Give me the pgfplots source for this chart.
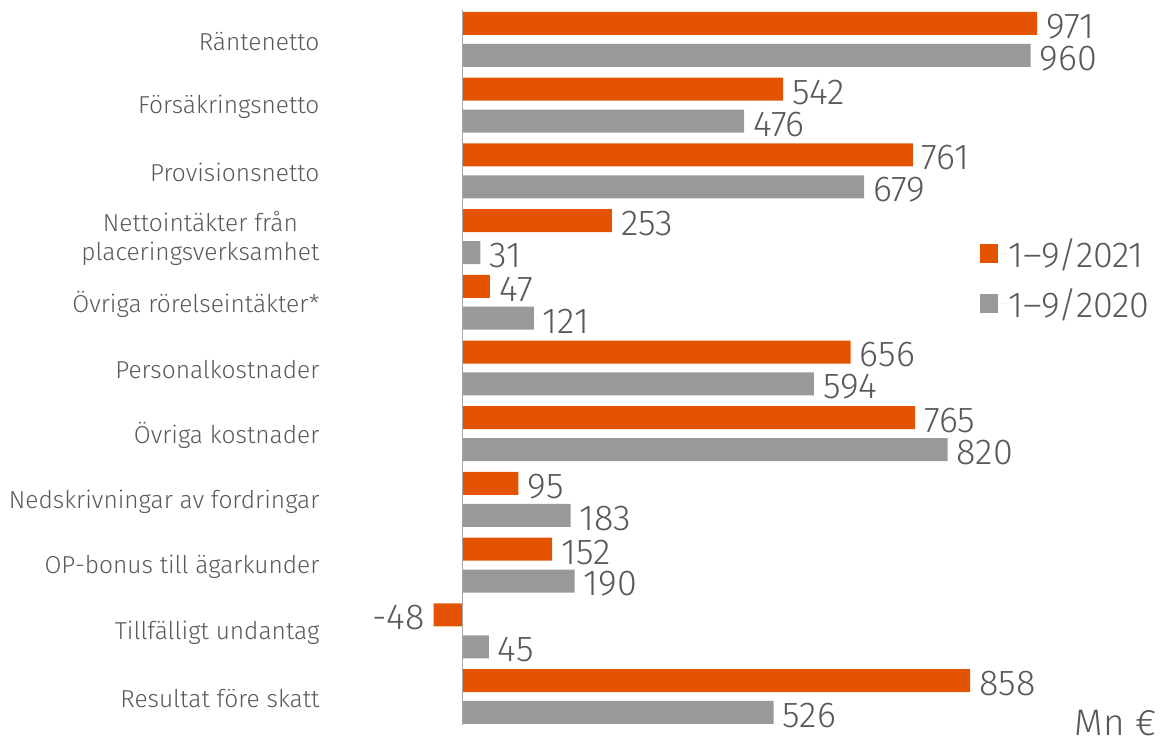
\documentclass[border=0pt]{standalone}
\usepackage{pgfplots}
\pgfplotsset{compat=1.18}
\usepackage{pgfplotstable}
\usepackage{fontspec}
\setmainfont{Fira Sans Light}
\definecolor{opor}{HTML}{E45400}
\definecolor{opgray}{HTML}{999999}
\definecolor{textgray}{HTML}{595959}
\definecolor{axisgray}{HTML}{A6A6A6}
\pgfplotstableread{
a b
971 960
542 476
761 679
253 31
47 121
656 594
765 820
95 183
152 190
-48 45
858 526
}\data
\begin{document}
\begin{tikzpicture}
\begin{axis}[
  xbar, bar width=23pt, bar shift=0pt,
  scale only axis, width=838pt, height=736pt,
  xmin=-235, xmax=1180, ymin=-0.6, ymax=10.6, y dir=reverse,
  axis line style={draw=none}, major tick length=0pt,
  xtick=\empty,
  ytick={0,...,10},
  yticklabels={Räntenetto, Försäkringsnetto, Provisionsnetto, {Nettointäkter från\\placeringsverksamhet}, Övriga rörelseintäkter*, Personalkostnader, Övriga kostnader, Nedskrivningar av fordringar, OP-bonus till ägarkunder, Tillfälligt undantag, Resultat före skatt},
  yticklabel style={font=\fontsize{24.5}{29}\selectfont, text=textgray, align=center, yshift=-2pt},
  nodes near coords, nodes near coords align=horizontal,
  every node near coord/.append style={font=\fontsize{36}{37}\selectfont, text=textgray, inner xsep=9pt, inner ysep=0pt, yshift=-3pt},
  /pgf/number format/assume math mode=true,
  legend style={at={(axis cs:875,3.0)}, anchor=north west, draw=none, fill=none, inner sep=0pt,
    font=\fontsize{36}{38}\selectfont, text=textgray, row sep=15pt},
  legend cell align=left,
  legend image code/.code={\path (0pt,0pt) -- (26pt,0pt);\fill[#1,draw=none] (0pt,-9.5pt) rectangle (18pt,9.5pt);},
  clip=false,
]
\addplot[fill=opor, draw=none] table[x=a, y expr=\coordindex-0.243]{\data};
\addplot[fill=opgray, draw=none] table[x=b, y expr=\coordindex+0.243]{\data};
\legend{1--9/2021, 1--9/2020}
\draw[axisgray, line width=1pt] (axis cs:0,-0.455) -- (axis cs:0,10.44);
\node[anchor=south east, inner sep=0pt, font=\fontsize{37}{38}\selectfont, text=textgray] at (axis description cs:0.995,0.0) {Mn €};
\end{axis}
\path ([xshift=-323pt,yshift=-4pt]current axis.south west) -- (current axis.north east);
\end{tikzpicture}
\end{document}
